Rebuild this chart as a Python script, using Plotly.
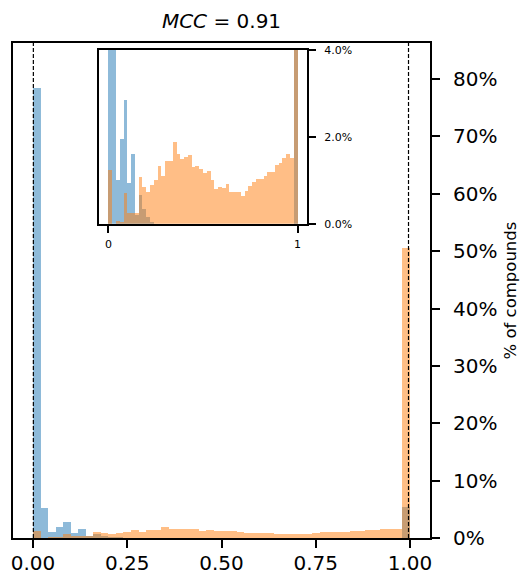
import numpy as np
import plotly.graph_objects as go

# Histogram of predicted scores, 50 bins of width 0.02 on [0, 1]
bin_width = 0.02
bin_edges = np.linspace(0.0, 1.0, 51)
bin_centers = (bin_edges[:-1] + bin_edges[1:]) / 2

# % of compounds per bin, inactive class (blue)
inactive_pct = [
    78.5, 5.3, 1.01, 1.96, 2.84, 0.93, 1.61, 0.20, 0.66, 0.35,
    0.16, 0.05, 0.0, 0.0, 0.0, 0.0, 0.0, 0.0, 0.0, 0.0,
    0.0, 0.0, 0.0, 0.0, 0.0, 0.0, 0.0, 0.0, 0.0, 0.0,
    0.0, 0.0, 0.0, 0.0, 0.0, 0.0, 0.0, 0.0, 0.0, 0.0,
    0.0, 0.0, 0.0, 0.0, 0.0, 0.0, 0.0, 0.0, 0.0, 5.4,
]

# % of compounds per bin, active class (orange)
active_pct = [
    1.23, 0.0, 0.06, 0.05, 0.71, 0.24, 0.24, 0.24, 1.07, 0.85,
    0.74, 0.90, 1.01, 1.32, 1.09, 1.44, 1.44, 1.88, 1.61, 1.49,
    1.54, 1.58, 1.30, 1.34, 1.27, 1.17, 1.22, 1.01, 0.80, 0.84,
    0.82, 0.91, 0.72, 0.72, 0.72, 0.63, 0.76, 0.87, 0.96, 1.03,
    1.03, 1.11, 1.20, 1.18, 1.36, 1.40, 1.51, 1.60, 1.51, 50.6,
]

# Dashed reference positions
ref_lines = [0.001, 0.996]

main_xticks = [0.0, 0.25, 0.5, 0.75, 1.0]
main_xticklabels = ["0.00", "0.25", "0.50", "0.75", "1.00"]
main_yticks = [0, 10, 20, 30, 40, 50, 60, 70, 80]
main_yticklabels = ["0%", "10%", "20%", "30%", "40%", "50%", "60%", "70%", "80%"]
inset_xticks = [0, 1]
inset_xticklabels = ["0", "1"]
inset_yticks = [0, 2, 4]
inset_yticklabels = ["0.0%", "2.0%", "4.0%"]

BLUE = "#1f77b4"
ORANGE = "#ff7f0e"

fig = go.Figure()

for xa, ya in (("x", "y"), ("x2", "y2")):
    fig.add_trace(go.Bar(
        x=bin_centers, y=inactive_pct, width=bin_width,
        marker=dict(color=BLUE, line=dict(width=0)), opacity=0.5,
        xaxis=xa, yaxis=ya, hoverinfo="skip",
    ))
    fig.add_trace(go.Bar(
        x=bin_centers, y=active_pct, width=bin_width,
        marker=dict(color=ORANGE, line=dict(width=0)), opacity=0.5,
        xaxis=xa, yaxis=ya, hoverinfo="skip",
    ))

for xv in ref_lines:
    fig.add_shape(
        type="line", xref="x", yref="y domain",
        x0=xv, x1=xv, y0=0, y1=1,
        line=dict(color="black", width=1.2, dash="4px,2px"),
    )

axis_common = dict(
    showline=True, linecolor="black", linewidth=2, mirror=True,
    showgrid=False, zeroline=False, automargin=False,
    ticks="outside", tickcolor="black", tickwidth=1.6,
)

fig.update_layout(
    width=525, height=575,
    margin=dict(l=13, r=95, t=43, b=37, autoexpand=False),
    barmode="overlay", bargap=0,
    plot_bgcolor="white", paper_bgcolor="white",
    showlegend=False,
    font=dict(family="DejaVu Sans", color="black"),
    title=dict(
        text="<i>MCC</i> = 0.91",
        font=dict(size=20, family="DejaVu Sans", color="black"),
        x=0.5, xref="paper", xanchor="center",
        y=1 - 21 / 575, yref="container", yanchor="middle",
    ),
    xaxis=dict(
        **axis_common, domain=[0, 1], anchor="y",
        range=[-0.053, 1.053],
        tickvals=main_xticks, ticktext=main_xticklabels,
        ticklen=8, tickfont=dict(size=20), ticklabelstandoff=-2,
    ),
    yaxis=dict(
        **axis_common, domain=[0, 1], anchor="x", side="right",
        range=[0, 86.3],
        tickvals=main_yticks, ticktext=main_yticklabels,
        ticklen=8, tickfont=dict(size=20), ticklabelstandoff=9,
    ),
    xaxis2=dict(
        **axis_common, domain=[0.2062, 0.705], anchor="y2",
        range=[-0.05, 1.05],
        tickvals=inset_xticks, ticktext=inset_xticklabels,
        ticklen=7, tickfont=dict(size=11), ticklabelstandoff=2,
    ),
    yaxis2=dict(
        **axis_common, domain=[0.635, 0.986], anchor="x2", side="right",
        range=[0, 4],
        tickvals=inset_yticks, ticktext=inset_yticklabels,
        ticklen=7, tickfont=dict(size=11), ticklabelstandoff=6,
    ),
)

fig.add_annotation(
    text="% of compounds",
    xref="paper", yref="paper",
    x=(510 - 13) / 417, y=0.5,
    xanchor="center", yanchor="middle",
    textangle=-90, showarrow=False,
    font=dict(size=16.5, family="DejaVu Sans", color="black"),
)

fig.write_html("out.html")
